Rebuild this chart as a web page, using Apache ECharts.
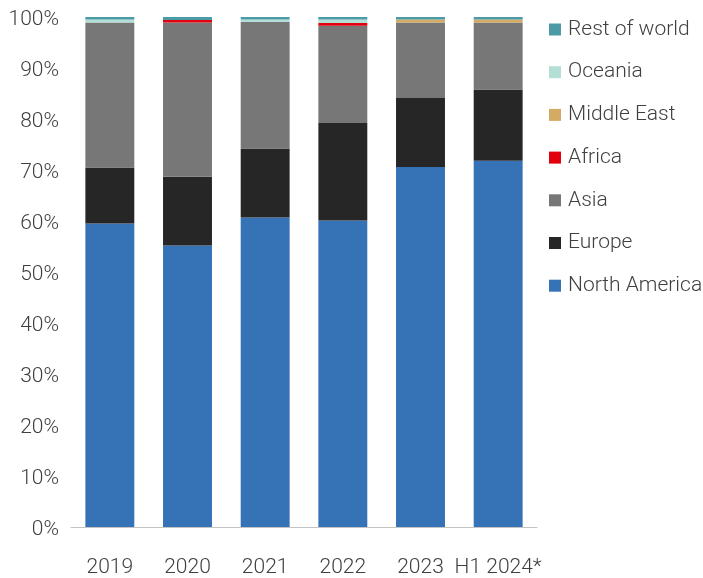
<!DOCTYPE html>
<html>
<head>
<meta charset="utf-8">
<script src="https://cdn.jsdelivr.net/npm/echarts@6/dist/echarts.min.js"></script>
<style>
  html, body { margin: 0; padding: 0; background: #ffffff; }
  #chart { width: 703px; height: 578px; }
</style>
</head>
<body>
<div id="chart"></div>
<script>
// Share of volume by region, per period (percent)
const categories = ['2019', '2020', '2021', '2022', '2023', 'H1 2024*'];
const northAmerica = [59.5, 55.2, 60.7, 60.1, 70.6, 71.8];
const europe       = [11.0, 13.5, 13.5, 19.1, 13.5, 14.0];
const asia         = [28.4, 30.2, 24.8, 19.1, 14.8, 13.1];
const africa       = [0, 0.5, 0, 0.5, 0, 0];
const middleEast   = [0, 0, 0, 0, 0.6, 0.6];
const oceania      = [0.6, 0, 0.5, 0.7, 0, 0];
const restOfWorld  = [0.5, 0.6, 0.5, 0.5, 0.5, 0.5];

const seriesDefs = [
  { name: 'North America', data: northAmerica, color: '#3672b6' },
  { name: 'Europe',        data: europe,       color: '#262626' },
  { name: 'Asia',          data: asia,         color: '#777777' },
  { name: 'Africa',        data: africa,       color: '#e2000f' },
  { name: 'Middle East',   data: middleEast,   color: '#d4ab63' },
  { name: 'Oceania',       data: oceania,      color: '#b4dfd6' },
  { name: 'Rest of world', data: restOfWorld,  color: '#4b9aa6' }
];

const textColor = '#404040';
const fontFamily = 'Roboto, "Liberation Sans", Arial, sans-serif';

const chart = echarts.init(document.getElementById('chart'), null, { renderer: 'canvas' });

chart.setOption({
  animation: false,
  backgroundColor: '#ffffff',
  textStyle: { fontFamily: fontFamily },
  grid: { left: 71, right: 166, top: 17, bottom: 50, containLabel: false },
  legend: {
    orient: 'vertical',
    left: 549,
    top: 19,
    padding: 0,
    itemWidth: 12,
    itemHeight: 12,
    itemGap: 21.7,
    icon: 'rect',
    data: seriesDefs.map(s => s.name).reverse(),
    textStyle: { color: textColor, fontSize: 21, fontWeight: 300, lineHeight: 20, padding: [0, 0, 0, 2] }
  },
  xAxis: {
    type: 'category',
    data: categories,
    axisLine: { show: true, lineStyle: { color: '#c4c4c4', width: 1 } },
    axisTick: { show: false },
    axisLabel: { color: textColor, fontSize: 21, fontWeight: 300, margin: 30, interval: 0 }
  },
  yAxis: {
    type: 'value',
    min: 0,
    max: 100,
    interval: 10,
    splitLine: { show: false },
    axisLine: { show: false },
    axisTick: { show: false },
    axisLabel: {
      color: textColor,
      fontSize: 21,
      fontWeight: 300,
      margin: 12,
      formatter: v => '{t|' + v + '%}',
      rich: { t: { color: textColor, fontSize: 21, fontWeight: 300, padding: [5, 0, 0, 0] } }
    }
  },
  series: seriesDefs.map(s => ({
    name: s.name,
    type: 'bar',
    stack: 'total',
    barWidth: '63%',
    data: s.data,
    itemStyle: { color: s.color },
    emphasis: { disabled: true }
  }))
});
</script>
</body>
</html>
